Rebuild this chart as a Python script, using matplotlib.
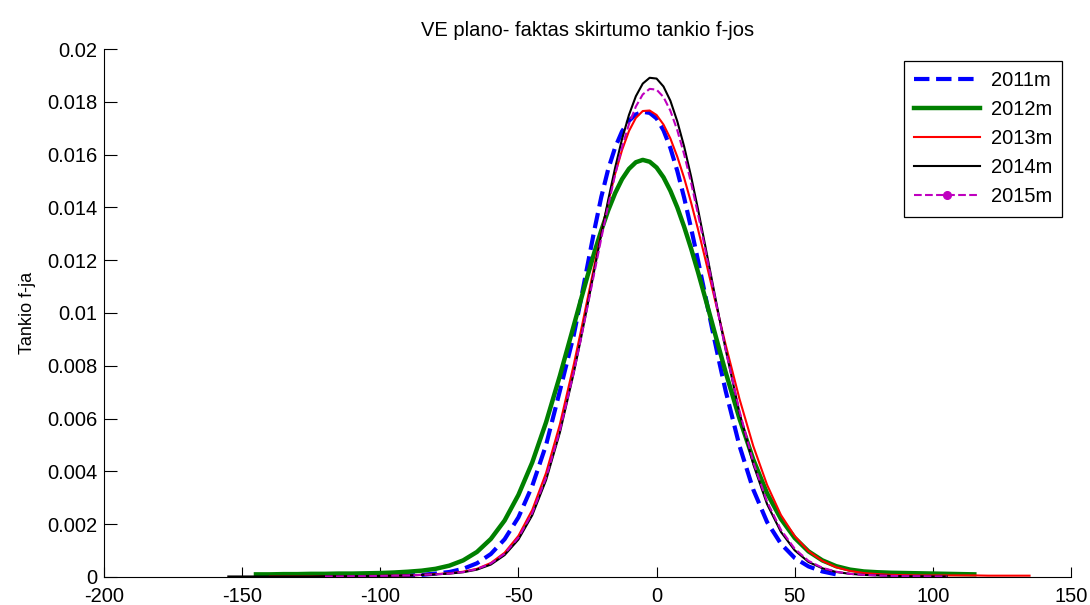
from matplotlib import lines
from matplotlib.ticker import FuncFormatter, MultipleLocator
import matplotlib.pyplot as plt
import numpy as np

plt.rcParams.update({'font.family': ['Liberation Sans', 'DejaVu Sans'],
                     'font.size': 14.5,
                     'axes.unicode_minus': False,
                     'axes.linewidth': 0.8})

nan = np.nan

# skirtumo reiksmes (x asis)
x_grid = [-155, -150, -145, -140, -135, -130, -125, -120, -115, -110, -105, -100, -95, -90, -85,
          -80, -75, -70, -65, -60, -55, -50, -45, -40, -35,
          -30, -27.5, -25, -22.5, -20, -17.5, -15, -12.5, -10, -7.5, -5, -2.5, 0, 2.5, 5, 7.5,
          10, 12.5, 15, 17.5, 20, 22.5, 25,
          30, 35, 40, 45, 50, 55, 60, 65, 70, 75, 80, 85, 90, 95, 100, 105, 110, 115, 120, 125, 130, 135]

dens_2011 = [nan, nan, nan, nan, nan, nan, 0.00002, 0.00002, 0.00002, 0.00003, 0.00003, 0.00004, 0.00005, 0.00006, 0.00008,
             0.00013, 0.00019, 0.00031, 0.00052, 0.00087, 0.00143, 0.00226, 0.00345, 0.00500, 0.00705,
             0.00915, 0.01045, 0.01180, 0.01315, 0.01440, 0.01545, 0.01627, 0.01688, 0.01728, 0.01752, 0.01762, 0.01758, 0.01737, 0.01692, 0.01625, 0.01538,
             0.01436, 0.01321, 0.01199, 0.01073, 0.00946, 0.00823, 0.00705,
             0.00497, 0.00331, 0.00208, 0.00126, 0.00072, 0.00040, 0.00021, 0.00010, nan, nan, nan, nan, nan, nan, nan, nan, nan, nan, nan, nan, nan, nan]

dens_2012 = [nan, nan, 0.00010, 0.00010, 0.00011, 0.00011, 0.00012, 0.00012, 0.00013, 0.00013, 0.00014, 0.00015, 0.00017, 0.00020, 0.00024,
             0.00031, 0.00043, 0.00063, 0.00095, 0.00144, 0.00214, 0.00311, 0.00434, 0.00586, 0.00762,
             0.00951, 0.01046, 0.01140, 0.01230, 0.01313, 0.01389, 0.01454, 0.01507, 0.01546, 0.01571, 0.01580, 0.01573, 0.01551, 0.01514, 0.01463, 0.01400,
             0.01326, 0.01244, 0.01155, 0.01061, 0.00966, 0.00870, 0.00776,
             0.00600, 0.00445, 0.00317, 0.00220, 0.00148, 0.00097, 0.00063, 0.00041, 0.00028, 0.00021, 0.00018, 0.00016, 0.00015, 0.00014, 0.00013, 0.00012, 0.00011, 0.00010, nan, nan, nan, nan]

dens_2013 = [nan, nan, nan, 0.00002, 0.00002, 0.00002, 0.00002, 0.00003, 0.00003, 0.00003, 0.00004, 0.00004, 0.00005, 0.00006, 0.00008,
             0.00011, 0.00014, 0.00020, 0.00031, 0.00053, 0.00092, 0.00156, 0.00254, 0.00394, 0.00578,
             0.00803, 0.00926, 0.01053, 0.01180, 0.01304, 0.01421, 0.01527, 0.01617, 0.01689, 0.01739, 0.01765, 0.01767, 0.01750, 0.01714, 0.01661, 0.01592,
             0.01511, 0.01418, 0.01317, 0.01210, 0.01100, 0.00989, 0.00880,
             0.00675, 0.00496, 0.00349, 0.00235, 0.00155, 0.00098, 0.00061, 0.00037, 0.00023, 0.00015, 0.00011, 0.00008, 0.00007, 0.00006, 0.00006, 0.00006, 0.00006, 0.00006, 0.00005, 0.00005, 0.00005, 0.00005]

dens_2014 = [0.00002, 0.00002, 0.00002, 0.00002, 0.00002, 0.00002, 0.00002, 0.00003, 0.00003, 0.00003, 0.00004, 0.00004, 0.00005, 0.00006, 0.00008,
             0.00010, 0.00013, 0.00018, 0.00028, 0.00047, 0.00083, 0.00142, 0.00234, 0.00367, 0.00547,
             0.00772, 0.00897, 0.01029, 0.01164, 0.01299, 0.01429, 0.01550, 0.01659, 0.01750, 0.01821, 0.01869, 0.01891, 0.01888, 0.01858, 0.01804, 0.01726,
             0.01630, 0.01517, 0.01393, 0.01261, 0.01127, 0.00992, 0.00862,
             0.00623, 0.00427, 0.00276, 0.00171, 0.00101, 0.00057, 0.00033, 0.00019, 0.00012, 0.00008, 0.00006, 0.00004, 0.00003, 0.00003, 0.00002, 0.00002, nan, nan, nan, nan, nan, nan]

dens_2015 = [nan, nan, nan, nan, nan, nan, nan, 0.00002, 0.00002, 0.00003, 0.00003, 0.00004, 0.00005, 0.00006, 0.00008,
             0.00010, 0.00013, 0.00019, 0.00030, 0.00051, 0.00088, 0.00149, 0.00242, 0.00376, 0.00554,
             0.00774, 0.00896, 0.01024, 0.01154, 0.01283, 0.01408, 0.01524, 0.01628, 0.01715, 0.01782, 0.01828, 0.01849, 0.01846, 0.01818, 0.01766, 0.01692,
             0.01600, 0.01493, 0.01374, 0.01248, 0.01117, 0.00988, 0.00861,
             0.00629, 0.00435, 0.00285, 0.00179, 0.00107, 0.00061, 0.00035, 0.00020, 0.00012, 0.00008, 0.00006, 0.00004, 0.00003, 0.00003, 0.00002, 0.00002, nan, nan, nan, nan, nan, nan]

labels = ['2011m', '2012m', '2013m', '2014m', '2015m']
colors = ['#0000ff', '#008000', '#ff0000', '#000000', '#bf00bf']
styles = ['--', '-', '-', '-', '--']
widths = [3.0, 3.2, 1.5, 1.5, 1.5]

# ----------------------------------------------------------------------------------------------------
fig = plt.figure(figsize = (10.9, 6.05), dpi = 100)
ax = fig.add_axes([104/1090, 28/605, 967/1090, 528/605])

x = np.array(x_grid)
for dens, col, ls, lw in zip([dens_2011, dens_2012, dens_2013, dens_2014, dens_2015], colors, styles, widths):
    ax.plot(x, np.array(dens), color = col, ls = ls, lw = lw)

ax.set_xlim([-200, 150])
ax.set_ylim([0, 0.02])
ax.xaxis.set_major_locator(MultipleLocator(50))
ax.yaxis.set_major_locator(MultipleLocator(0.002))
ax.yaxis.set_major_formatter(FuncFormatter(lambda v, p: '{:g}'.format(round(v, 4))))
ax.tick_params(axis = 'x', direction = 'in', length = 7, width = 0.8, pad = 7.5)
ax.tick_params(axis = 'y', direction = 'in', length = 9, width = 0.8, pad = 5)
ax.spines['top'].set_visible(False)
ax.spines['right'].set_visible(False)

ax.set_title('VE plano- faktas skirtumo tankio f-jos', fontsize = 14.5, pad = 9)
ax.set_ylabel('Tankio f-ja', fontsize = 13)
ax.yaxis.set_label_coords(-0.070, 0.5)

handles = []
for lab, col, ls, lw in zip(labels, colors, styles, widths):
    mk = '.' if lab == '2015m' else None
    handles.append(lines.Line2D([], [], color = col, ls = ls, lw = lw, marker = mk, markersize = 11, label = lab))
lgnd = ax.legend(handles = handles, loc = 'upper right', bbox_to_anchor = (0.9907, 0.977), borderaxespad = 0,
                 fancybox = False, framealpha = 1, edgecolor = 'black', fontsize = 14.5,
                 handlelength = 3.3, handletextpad = 0.5, labelspacing = 0.5, borderpad = 0.5)
lgnd.get_frame().set_linewidth(0.9)

plt.savefig('out.png', dpi = 100)
